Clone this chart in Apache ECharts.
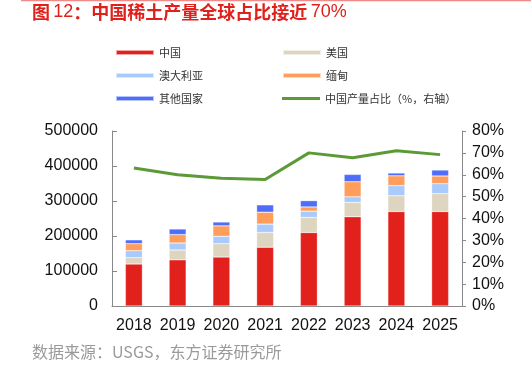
<!DOCTYPE html>
<html><head><meta charset="utf-8">
<script src="https://cdn.jsdelivr.net/npm/echarts@6/dist/echarts.min.js"></script>
<style>html,body{margin:0;padding:0;background:#fff}#c{width:531px;height:370px}</style>
</head><body><div id="c"></div>
<script>
const years = ['2018','2019','2020','2021','2022','2023','2024','2025'];
const china = [120000,132000,140000,168000,210000,255000,270000,270000];
const usa = [18000,28000,38000,42000,43000,41000,45000,51000];
const australia = [20000,20000,21000,24000,18000,16000,29000,28500];
const myanmar = [20000,24000,30000,34000,12000,43000,28000,22000];
const others = [11000,16000,11000,21000,18000,21000,8000,17000];
const chinaShare = [63.1,60.0,58.4,57.8,70.0,67.8,71.0,69.2];
const leftTicks = [0,100000,200000,300000,400000,500000];
const rightTicks = [0,10,20,30,40,50,60,70,80];

const names = ['中国','美国','澳大利亚','缅甸','其他国家','中国产量占比（%，右轴）'];
const colors = ['#E2211C','#DDD5C0','#A8CAFD','#FF9D5C','#4E6DFB','#5B9A37'];
const barData = [china, usa, australia, myanmar, others];

const font = 'Liberation Sans, Arial, sans-serif';
const cjk = '"Noto Sans CJK SC", "Liberation Sans", sans-serif';

const series = barData.map((d,i)=>({
  name: names[i], type:'bar', stack:'total', data:d, barWidth:17,
  itemStyle:{color:colors[i], borderColor:'rgba(255,255,255,0.6)', borderWidth:0.5},
  emphasis:{disabled:true}
}));
series.push({
  name: names[5], type:'line', yAxisIndex:1, data:chinaShare,
  symbol:'none', lineStyle:{color:colors[5], width:3}, itemStyle:{color:colors[5]}
});

const legPos = [[115,54],[282,54],[115,77],[282,77],[115,100],[282,100]];
const legends = names.map((n,i)=>({
  data:[n], left:legPos[i][0], top:legPos[i][1]-7, itemWidth:38, itemHeight: i===5?3:5,
  itemGap:0, icon:'rect', padding:0,
  textStyle:{fontSize:11, color:'#333', fontFamily:cjk, padding:[0,0,0,0]},
  selectedMode:false
}));

const option = {
  animation:false,
  legend: legends,
  graphic:[
    {type:'line', shape:{x1:21,y1:0.5,x2:531,y2:0.5}, style:{stroke:'#EE8A88', lineWidth:1.5}},
    {type:'text', left:32, top:3, style:{
      text:'{b|图} {n|12}{b|：中国稀土产量全球占比接近} {n|70%}',
      rich:{
        b:{fill:'#E0201B', font:'bold 18px '+cjk},
        n:{fill:'#E0201B', font:'18px '+font}
      }}},
    {type:'text', left:32, top:344, style:{text:'数据来源：USGS，东方证券研究所', fill:'#9a9a9a', font:'16px '+cjk}}
  ],
  grid:{left:112, right:69, top:131, bottom:64, containLabel:false},
  xAxis:{type:'category', data:years,
    axisLine:{lineStyle:{color:'#888'}},
    axisTick:{inside:true, length:4, lineStyle:{color:'#888'}},
    axisLabel:{fontSize:16, color:'#111', margin:12, fontFamily:font, interval:0}
  },
  yAxis:[
    {type:'value', min:leftTicks[0], max:leftTicks[leftTicks.length-1], interval:100000,
      axisLine:{show:true, lineStyle:{color:'#888'}},
      axisTick:{show:true, inside:true, length:5, lineStyle:{color:'#888'}},
      splitLine:{show:false},
      axisLabel:{fontSize:16, color:'#111', margin:14, fontFamily:font, formatter:(v)=>String(v)}
    },
    {type:'value', min:rightTicks[0], max:rightTicks[rightTicks.length-1], interval:10, position:'right',
      axisLine:{show:true, lineStyle:{color:'#888'}},
      axisTick:{show:true, inside:false, length:4, lineStyle:{color:'#888'}},
      splitLine:{show:false},
      axisLabel:{fontSize:16, color:'#111', margin:10, fontFamily:font, formatter:'{value}%'}
    }
  ],
  series
};
const chart = echarts.init(document.getElementById('c'), null, {renderer:'canvas'});
chart.setOption(option);
</script></body></html>
